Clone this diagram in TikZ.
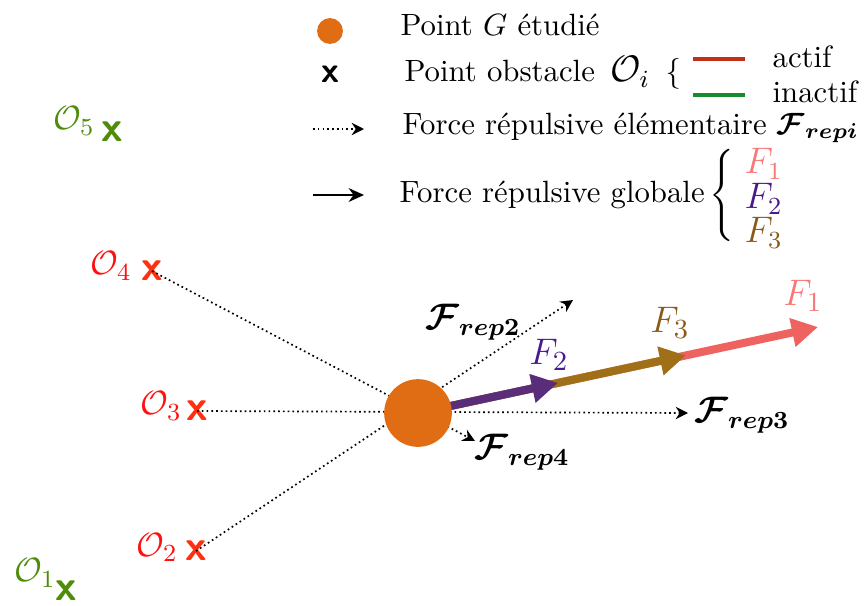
\documentclass[tikz,border=0pt]{standalone}
\usepackage{amsmath,amssymb,bm}
\usetikzlibrary{arrows.meta,calc}
\definecolor{gorange}{HTML}{E06C14}
\definecolor{actred}{HTML}{FF3010}
\definecolor{labred}{HTML}{FF1010}
\definecolor{inagreen}{HTML}{4E8C0A}
\definecolor{legred}{HTML}{C0301A}
\definecolor{leggreen}{HTML}{1A8A2E}
\definecolor{fone}{HTML}{EE6360}
\definecolor{ftwo}{HTML}{5A2D7A}
\definecolor{fthree}{HTML}{A07018}
\definecolor{tone}{HTML}{F87878}
\definecolor{ttwo}{HTML}{4B1A8A}
\definecolor{tthree}{HTML}{8B5A1A}
\tikzset{
  obsmark/.style={inner sep=0pt, font=\fontsize{14}{16}\selectfont\sffamily\bfseries},
  obslabel/.style={inner sep=0pt, font=\fontsize{11.2}{13}\selectfont},
  elemforce/.style={densely dotted, line width=0.55pt, -{Stealth[length=4pt,width=4pt]}},
  globforce/.style={line width=2.6pt, -{Triangle[length=8.5pt,width=9pt]}},
  legtext/.style={anchor=west, inner sep=0pt},
  flabel/.style={inner sep=0pt, font=\fontsize{12.5}{14}\selectfont},
  legflabel/.style={anchor=west, inner sep=0pt, font=\fontsize{12}{14}\selectfont},
  replabel/.style={inner sep=0pt, font=\fontsize{11.7}{14}\selectfont},
}
\begin{document}
\begin{tikzpicture}[x=0.325pt,y=-0.325pt]
\useasboundingbox (0,0) rectangle (865,605);
% ---------- legend ----------
\node[circle, fill=gorange, minimum size=8.4pt, inner sep=0pt] (lg) at (330,31) {};
\node[legtext] (lgt) at (400,25) {Point $G$ étudié};
\node[inner sep=0pt, font=\fontsize{11.7}{13}\selectfont\sffamily\bfseries] (lx) at (330,74) {x};
\node[legtext] (lxt) at (404,73) {Point obstacle \,$\text{\large$\mathcal{O}_i$}$\, \{};
\coordinate (lra) at (693,59); \coordinate (lrb) at (745,59);
\coordinate (lga) at (693,95); \coordinate (lgb) at (745,95);
\draw[legred, line width=1.3pt] (lra) -- (lrb);
\draw[leggreen, line width=1.3pt] (lga) -- (lgb);
\node[legtext] (lact) at (772,57) {actif};
\node[legtext] (linact) at (772,92) {inactif};
\coordinate (lda) at (313,129); \coordinate (ldb) at (364,129);
\draw[elemforce] (lda) -- (ldb);
\node[legtext] (ldt) at (402,128) {Force répulsive élémentaire $\bm{\mathcal{F}_{repi}}$};
\coordinate (lsa) at (313,195); \coordinate (lsb) at (364,195);
\draw[line width=0.6pt, -{Stealth[length=5pt,width=4.5pt]}] (lsa) -- (lsb);
\node[legtext] (lst) at (399,195) {Force répulsive globale\,$\left\{\vrule height 17pt depth 12pt width 0pt\right.$};
\node[legflabel, text=tone] (lF1) at (744,164) {$F_1$};
\node[legflabel, text=ttwo] (lF2) at (744,199) {$F_2$};
\node[legflabel, text=tthree] (lF3) at (744,233) {$F_3$};
% ---------- obstacles ----------
\node[obsmark, text=actred] (o4) at (152,271) {x};
\node[obslabel, text=labred] at (111,266) {$\mathcal{O}_4$};
\node[obsmark, text=actred] (o3) at (197,411) {x};
\node[obslabel, text=labred] at (161,406) {$\mathcal{O}_3$};
\node[obsmark, text=actred] (o2) at (196,551) {x};
\node[obslabel, text=labred] at (157,547) {$\mathcal{O}_2$};
\node[obsmark, text=inagreen] (o5) at (112,132) {x};
\node[obslabel, text=inagreen] at (74,121) {$\mathcal{O}_5$};
\node[obsmark, text=inagreen] (o1) at (66,591) {x};
\node[obslabel, text=inagreen] at (35,573) {$\mathcal{O}_1$};
% ---------- elementary forces ----------
\coordinate (g) at (418,413);
\coordinate (t2) at (573,300);
\coordinate (t3) at (688,413);
\coordinate (t4) at (475,441);
\draw[elemforce] (o2.center) -- (t2);
\draw[elemforce] (o3.center) -- (t3);
\draw[elemforce] (o4.center) -- (t4);
% ---------- global forces ----------
\coordinate (f1) at (818,327);
\coordinate (f3) at ($(g)!0.67!(f1)$);
\coordinate (f2) at ($(g)!0.35!(f1)$);
\draw[globforce, fone] (g) -- (f1);
\draw[globforce, fthree] (g) -- (f3);
\draw[globforce, ftwo] (g) -- (f2);
\node[circle, fill=gorange, minimum size=22pt, inner sep=0pt] (G) at (g) {};
% ---------- labels ----------
\node[flabel, text=tone] (lf1) at (803,296) {$F_1$};
\node[flabel, text=tthree] (lf3) at (670,323) {$F_3$};
\node[flabel, text=ttwo] (lf2) at (549,355) {$F_2$};
\node[replabel] (lr2) at (473,322) {$\bm{\mathcal{F}_{rep2}}$};
\node[replabel] (lr3) at (742,415) {$\bm{\mathcal{F}_{rep3}}$};
\node[replabel] (lr4) at (522,452) {$\bm{\mathcal{F}_{rep4}}$};
\end{tikzpicture}
\end{document}
